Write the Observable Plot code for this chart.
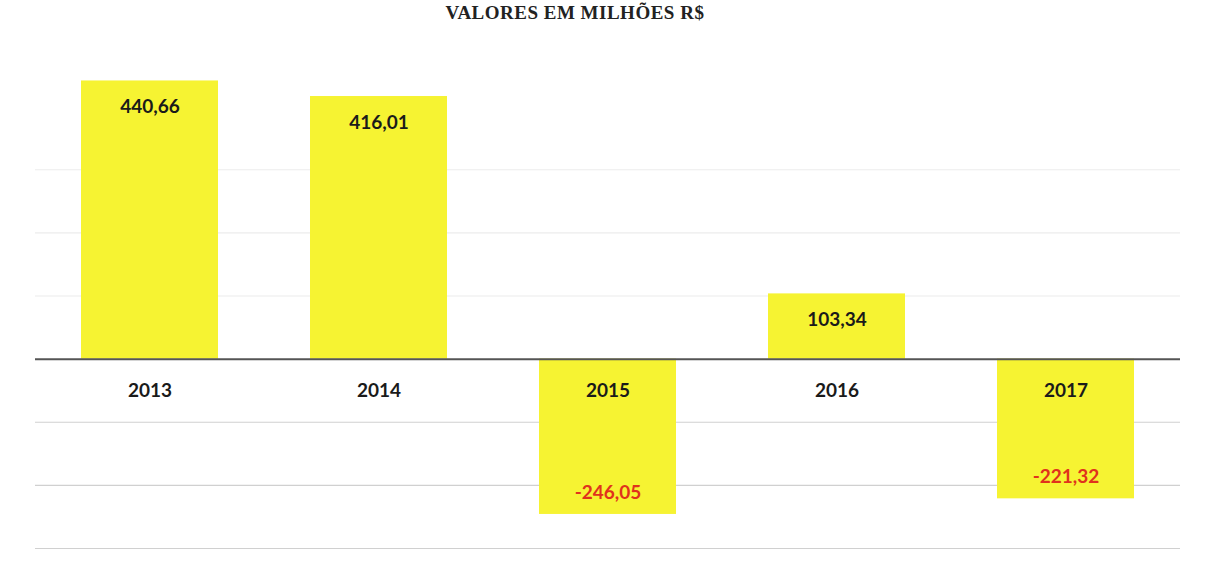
<!DOCTYPE html>
<html>
<head>
<meta charset="utf-8">
<script src="https://cdn.jsdelivr.net/npm/d3@7"></script>
<script src="https://cdn.jsdelivr.net/npm/@observablehq/plot@0.6"></script>
<style>
  html, body { margin: 0; padding: 0; background: #fff; overflow: hidden; }
  #wrap { position: relative; width: 1207px; height: 562px; }
  #title { position: absolute; top: 2px; left: 0; width: 1150px; text-align: center; line-height: 1.2;
    font-family: "Liberation Serif", serif; font-weight: bold; font-size: 19px; color: #222; letter-spacing: 0.5px; }
  #chart { position: absolute; top: 0; left: 0; }
</style>
</head>
<body>
<div id="wrap">
  <div id="chart"></div>
  <div id="title">VALORES EM MILHÕES R$</div>
</div>
<script>
const years = ["2013", "2014", "2015", "2016", "2017"];
const values = [440.66, 416.01, -246.05, 103.34, -221.32];
const gridNeg = [-300, -200, -100];
const gridPos = [100, 200, 300];

const data = years.map((y, i) => ({year: y, value: values[i]}));
const fmt = v => v.toFixed(2).replace(".", ",");

const chart = Plot.plot({
  width: 1207,
  height: 562,
  marginLeft: 35,
  marginRight: 27,
  marginTop: 43,
  marginBottom: 14,
  x: {domain: years, paddingInner: 0.4, paddingOuter: 0.2, axis: null},
  y: {domain: [-300, 500], axis: null},
  style: {fontFamily: "Lato, sans-serif", background: "#fff"},
  marks: [
    Plot.ruleY(gridPos, {stroke: "#ececec", strokeWidth: 1.2}),
    Plot.ruleY(gridNeg, {stroke: "#d0d0d0", strokeWidth: 1.2}),
    Plot.barY(data, {x: "year", y: "value", fill: "#f6f332"}),
    Plot.ruleY([0], {stroke: "#555", strokeWidth: 2}),
    Plot.text(data, {x: "year", y: 0, text: "year", dy: 32, fontSize: 19, fontWeight: "bold", fill: "#1a1a1a"}),
    Plot.text(data.filter(d => d.value > 0), {x: "year", y: "value", text: d => fmt(d.value), dy: 26, fontSize: 19, fontWeight: "bold", fill: "#1a1a1a"}),
    Plot.text(data.filter(d => d.value < 0), {x: "year", y: "value", text: d => fmt(d.value), dy: -22, fontSize: 19, fontWeight: "bold", fill: "#e0321c"})
  ]
});
document.getElementById("chart").appendChild(chart);
</script>
</body>
</html>
